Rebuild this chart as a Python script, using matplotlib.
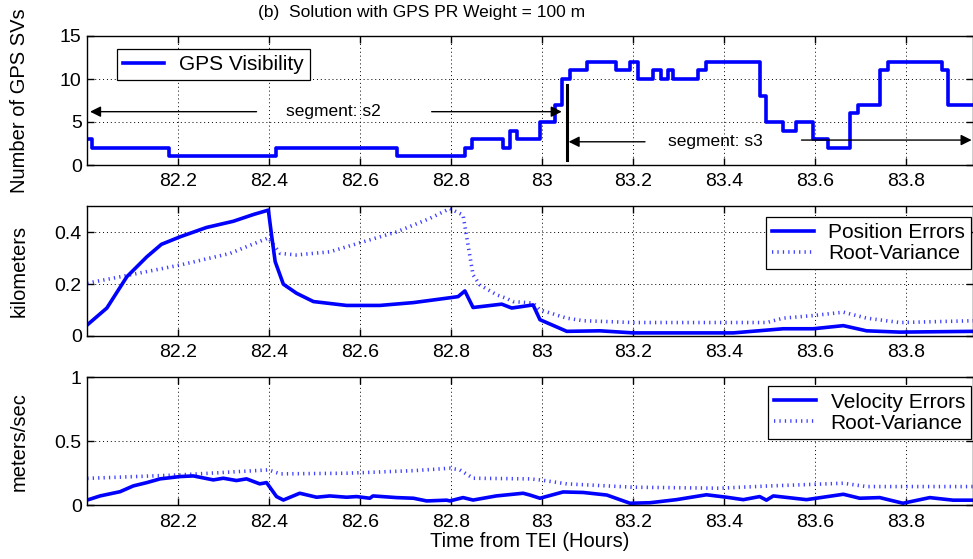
import matplotlib
matplotlib.use('Agg')
import matplotlib.pyplot as plt
from matplotlib.ticker import FixedLocator, FuncFormatter

plt.rcParams['font.family'] = ['Liberation Sans', 'DejaVu Sans']

# ---- GPS visibility (step, value holds until next time) ----
sv_t = [82.0, 82.011, 82.18, 82.414, 82.68, 82.83, 82.845, 82.913, 82.929, 82.945,
        82.995, 83.028, 83.043, 83.061, 83.098, 83.163, 83.193, 83.211, 83.244, 83.262,
        83.277, 83.288, 83.343, 83.361, 83.478, 83.493, 83.530, 83.559, 83.596, 83.629,
        83.676, 83.695, 83.742, 83.761, 83.878, 83.892, 83.95]
sv_n = [3, 2, 1, 2, 1, 2, 3, 2, 4, 3,
        5, 7, 10, 11, 12, 11, 12, 10, 11, 10,
        11, 10, 11, 12, 8, 5, 4, 5, 3, 2,
        6, 7, 11, 12, 11, 7, 7]

# ---- position errors / root-variance (km) ----
pos_t = [82.0, 82.043, 82.087, 82.131, 82.163, 82.204, 82.262, 82.321, 82.365, 82.398,
         82.405, 82.413, 82.431, 82.46, 82.497, 82.57, 82.643, 82.717, 82.79, 82.815,
         82.83, 82.848, 82.911, 82.933, 82.98, 82.995, 83.054, 83.127, 83.2, 83.42,
         83.53, 83.596, 83.662, 83.713, 83.786, 83.95]
pos_err = [0.043, 0.108, 0.229, 0.306, 0.354, 0.383, 0.419, 0.443, 0.469, 0.486,
           0.39, 0.287, 0.2, 0.165, 0.133, 0.118, 0.118, 0.129, 0.146, 0.152,
           0.174, 0.11, 0.123, 0.108, 0.12, 0.063, 0.018, 0.02, 0.012, 0.012,
           0.028, 0.028, 0.04, 0.02, 0.015, 0.018]

pos_rv_t = [82.0, 82.094, 82.204, 82.314, 82.398, 82.424, 82.46, 82.533, 82.607, 82.68,
            82.753, 82.797, 82.826, 82.837, 82.848, 82.863, 82.9, 82.922, 82.936, 82.98,
            82.995, 83.054, 83.09, 83.2, 83.493, 83.53, 83.596, 83.662, 83.713, 83.786,
            83.95]
pos_rv = [0.204, 0.236, 0.274, 0.319, 0.379, 0.319, 0.313, 0.325, 0.364, 0.402,
          0.454, 0.492, 0.467, 0.351, 0.236, 0.197, 0.159, 0.145, 0.133, 0.127,
          0.101, 0.069, 0.059, 0.052, 0.052, 0.069, 0.079, 0.092, 0.069, 0.052,
          0.059]

# ---- velocity errors / root-variance (m/s) ----
vel_t = [82.0, 82.028, 82.072, 82.101, 82.131, 82.16, 82.204, 82.233, 82.277, 82.299,
         82.328, 82.35, 82.379, 82.394, 82.416, 82.431, 82.467, 82.504, 82.533, 82.57,
         82.592, 82.621, 82.628, 82.68, 82.717, 82.746, 82.79, 82.797, 82.826, 82.848,
         82.899, 82.958, 82.973, 82.995, 83.046, 83.09, 83.142, 83.193, 83.237, 83.295,
         83.361, 83.405, 83.442, 83.478, 83.493, 83.508, 83.581, 83.662, 83.698, 83.742,
         83.793, 83.852, 83.903, 83.95]
vel_err = [0.041, 0.073, 0.106, 0.151, 0.177, 0.206, 0.224, 0.229, 0.198, 0.211,
           0.193, 0.206, 0.167, 0.177, 0.068, 0.041, 0.094, 0.063, 0.073, 0.063,
           0.068, 0.055, 0.073, 0.06, 0.055, 0.034, 0.04, 0.034, 0.06, 0.041,
           0.073, 0.094, 0.08, 0.055, 0.104, 0.1, 0.08, 0.016, 0.02, 0.044,
           0.082, 0.063, 0.044, 0.068, 0.04, 0.073, 0.044, 0.086, 0.055, 0.06,
           0.016, 0.06, 0.04, 0.04]

vel_rv_t = [82.0, 82.204, 82.398, 82.424, 82.57, 82.717, 82.797, 82.819, 82.848, 82.973,
            82.995, 83.054, 83.2, 83.39, 83.493, 83.662, 83.713, 83.95]
vel_rv = [0.21, 0.237, 0.276, 0.245, 0.25, 0.27, 0.289, 0.276, 0.211, 0.206,
          0.198, 0.167, 0.141, 0.133, 0.15, 0.172, 0.146, 0.146]

x_ticks = [82.2, 82.4, 82.6, 82.8, 83.0, 83.2, 83.4, 83.6, 83.8]

BLUE = '#0000ff'
DOT = (0, (0.35, 1.15))
W, H = 973, 559

fig = plt.figure(figsize=(W / 100, H / 100), dpi=100)


def px_axes(x0, y0, x1, y1):
    return fig.add_axes([x0 / W, 1 - y1 / H, (x1 - x0) / W, (y1 - y0) / H])


ax1 = px_axes(87.3, 36, 973, 165)
ax2 = px_axes(87.3, 206.5, 973, 336)
ax3 = px_axes(87.3, 377, 973, 505.3)

for ax in (ax1, ax2, ax3):
    ax.set_xlim(82.0, 83.947)
    ax.xaxis.set_major_locator(FixedLocator(x_ticks))
    ax.xaxis.set_major_formatter(FuncFormatter(lambda v, p: f'{v:g}'))
    ax.tick_params(direction='in', top=True, right=True, labelsize=14, length=5,
                   width=1)
    ax.tick_params(axis='x', pad=6)
    ax.tick_params(axis='y', pad=4)
    ax.grid(True, color='k', linestyle=(0, (1, 3)), linewidth=0.7)
    for s in ax.spines.values():
        s.set_linewidth(1)

# top panel
ax1.step(sv_t, sv_n, where='post', color=BLUE, lw=2.6, label='GPS Visibility')
ax1.set_ylim(0, 15)
ax1.set_yticks([0, 5, 10, 15])
ax1.set_ylabel('Number of GPS SVs', fontsize=14.5)

arrow = dict(arrowstyle='-|>', color='k', lw=1, mutation_scale=16, shrinkA=0, shrinkB=0)
ax1.annotate('', xy=(82.006, 6.2), xytext=(82.372, 6.2), arrowprops=arrow)
ax1.annotate('', xy=(83.043, 6.2), xytext=(82.757, 6.2), arrowprops=arrow)
ax1.text(82.54, 6.2, 'segment: s2', fontsize=12.5, ha='center', va='center')
ax1.plot([83.054, 83.054], [0.6, 9.3], color='k', lw=2.2)
ax1.annotate('', xy=(83.058, 2.7), xytext=(83.226, 2.7), arrowprops=arrow)
ax1.annotate('', xy=(83.944, 2.9), xytext=(83.57, 2.9), arrowprops=arrow)
ax1.text(83.381, 2.7, 'segment: s3', fontsize=12.5, ha='center', va='center')

leg_kw = dict(fontsize=15, frameon=True, fancybox=False, framealpha=1,
              edgecolor='k', borderpad=0.3, labelspacing=0.1, handlelength=2.0,
              handletextpad=0.7, borderaxespad=0)
lg = ax1.legend(loc='upper left', bbox_to_anchor=(0.033, 0.9), **leg_kw)
lg.get_frame().set_linewidth(0.9)

# middle panel
ax2.plot(pos_t, pos_err, color=BLUE, lw=2.6, label='Position Errors')
ax2.plot(pos_rv_t, pos_rv, color=BLUE, lw=2.6, linestyle=DOT, alpha=0.75,
         label='Root-Variance')
ax2.set_ylim(0, 0.5)
ax2.set_yticks([0, 0.2, 0.4])
ax2.yaxis.set_major_formatter(FuncFormatter(lambda v, p: f'{v:g}'))
ax2.set_ylabel('kilometers', fontsize=14.5)
lg = ax2.legend(loc='upper right', bbox_to_anchor=(0.998, 0.92), **leg_kw)
lg.get_frame().set_linewidth(0.9)

# bottom panel
ax3.plot(vel_t, vel_err, color=BLUE, lw=2.6, label='Velocity Errors')
ax3.plot(vel_rv_t, vel_rv, color=BLUE, lw=2.6, linestyle=DOT, alpha=0.75,
         label='Root-Variance')
ax3.set_ylim(0, 1)
ax3.set_yticks([0, 0.5, 1])
ax3.yaxis.set_major_formatter(FuncFormatter(lambda v, p: f'{v:g}'))
ax3.set_ylabel('meters/sec', fontsize=14.5)
ax3.set_xlabel('Time from TEI (Hours)', fontsize=14.5, labelpad=1)
lg = ax3.legend(loc='upper right', bbox_to_anchor=(0.998, 0.927), **leg_kw)
lg.get_frame().set_linewidth(0.9)

for ax in (ax1, ax2, ax3):
    ax.yaxis.set_label_coords(-0.066, 0.5)

fig.text(258 / W, 1 - 12 / H, '(b)  Solution with GPS PR Weight = 100 m',
         fontsize=12.5, ha='left', va='center')

fig.savefig('out.png', dpi=100)
